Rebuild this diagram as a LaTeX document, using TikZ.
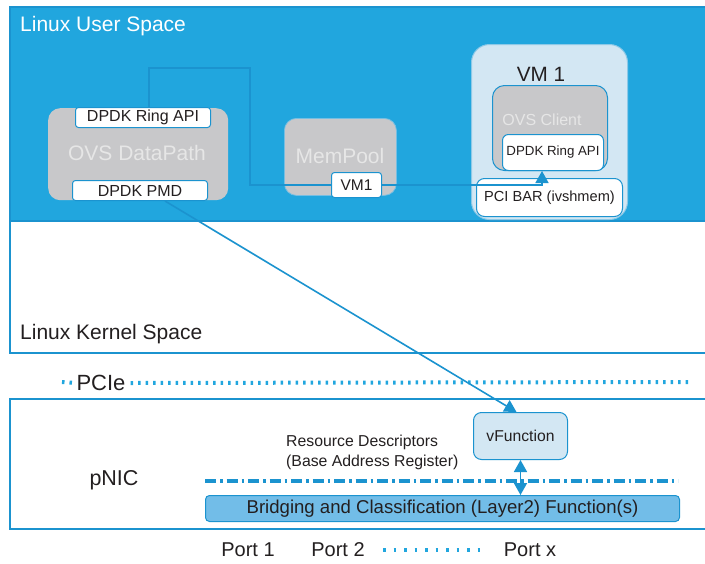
\documentclass[tikz,border=0pt]{standalone}
\usepackage{fontspec}
\setmainfont{Liberation Sans}
\usetikzlibrary{positioning,arrows.meta}
\definecolor{uSpace}{HTML}{21A6DE}
\definecolor{uLine}{HTML}{1B93CF}
\definecolor{uPale}{HTML}{D3E7F3}
\definecolor{uGrey}{HTML}{C8C8CA}
\definecolor{uBridge}{HTML}{72BDE8}
\definecolor{uInk}{HTML}{231F20}
\definecolor{uGhost}{HTML}{E6E6E6}
\newcommand{\pxfont}[1]{\fontsize{#1}{#1}\selectfont}
\tikzset{
  region/.style={draw=uLine, line width=1.5pt, anchor=north west, inner sep=0pt},
  greybox/.style={fill=uGrey, rounded corners=12pt, anchor=north west, inner sep=0pt},
  tag/.style={draw=uLine, line width=1pt, fill=white, rounded corners=3pt,
              anchor=north west, inner sep=0pt, text=uInk, font=\pxfont{16}},
  fnbox/.style={draw=uLine, line width=1pt, fill=uPale, rounded corners=8pt,
                anchor=north west, inner sep=0pt, text=uInk, font=\pxfont{15.7}},
  bridgebox/.style={draw=uLine, line width=1pt, fill=uBridge, rounded corners=4pt,
                    anchor=north west, inner sep=0pt, text=uInk, font=\pxfont{18.6}},
  lbl/.style={font=\pxfont{21}, text=uInk, inner sep=1pt},
  ghost/.style={font=\pxfont{21}, text=uGhost, inner sep=1pt},
  note/.style={font=\fontsize{15.8}{20}\selectfont, text=uInk, align=left, inner sep=1pt},
  wire/.style={draw=uLine, line width=1.6pt},
  tip/.style={-{Triangle[length=12pt, width=13pt]}},
  % dotted bus lines: short vertical dashes
  pcidots/.style={draw=uSpace, line width=4pt, dash pattern=on 2.5pt off 5pt},
  portdots/.style={draw=uSpace, line width=4pt, dash pattern=on 2.5pt off 8pt},
  dashdotline/.style={draw=uLine, line width=4pt, dash pattern=on 11pt off 4pt on 2.5pt off 4pt},
}

\begin{document}
\begin{tikzpicture}[x=1pt, y=-1pt]
\clip (0,0) rectangle (705,563);

%% ── the layers ────────────────────────────────────────────────────────────
\node[region, fill=uSpace, minimum width=710pt, minimum height=214pt] (user) at (9,6) {};
\node[lbl, text=white, anchor=west] (userlbl) at (19,26) {Linux User Space};
\node[region, fill=white, minimum width=710pt, minimum height=132pt] (kernel) at (9,220) {};
\node[lbl, anchor=west] (kernlbl) at (19,334) {Linux Kernel Space};
\node[region, fill=white, minimum width=710pt, minimum height=130pt] (pnic) at (9,398) {};
\node[lbl, font=\pxfont{21.5}] (pniclbl) at (114,480) {pNIC};

%% ── OVS datapath ──────────────────────────────────────────────────────────
\node[greybox, minimum width=180pt, minimum height=92pt] (dpath) at (48,108) {};
\node[ghost] (dptitle) at (137,153) {OVS DataPath};

%% ── mempool ───────────────────────────────────────────────────────────────
\node[greybox, draw=uLine!60, line width=0.8pt, minimum width=112pt,
      minimum height=77pt] (mempool) at (284,118) {};
\node[ghost] (mptitle) at (340,156) {MemPool};

%% ── the guest ─────────────────────────────────────────────────────────────
\node[region, fill=uPale, draw=uLine!50, line width=1pt, rounded corners=18pt,
      minimum width=156pt, minimum height=175pt] (vm) at (471,44) {};
\node[lbl, font=\pxfont{20.7}] (vmtitle) at (541,74) {VM 1};
\node[greybox, draw=uLine, line width=1pt, minimum width=115pt,
      minimum height=85pt] (client) at (492,85) {};
\node[ghost, font=\pxfont{16}] (cltitle) at (542,120) {OVS Client};

%% ── links in user space ───────────────────────────────────────────────────
\coordinate (bend) at (250,68);
\node[tag, minimum width=50pt, minimum height=25pt, font=\pxfont{15.5}] (vmtag) at (331,172) {VM1};
\node[tag, minimum width=101pt, minimum height=36pt, rounded corners=6pt,
      font=\pxfont{13.3}] (vmring) at (502,134) {DPDK Ring API};
\node[tag, minimum width=135pt, minimum height=20pt] (dpring) at (75,107) {DPDK Ring API};
\node[tag, minimum width=135pt, minimum height=20pt] (dppmd) at (72,180) {DPDK PMD};
\draw[wire] ([xshift=6pt]dpring.north) |- (bend) |- (vmtag.west);
\node[tag, minimum width=146pt, minimum height=38pt, rounded corners=8pt,
      font=\pxfont{14.6}] (pcibar) at (476,178) {PCI BAR (ivshmem)};
\draw[wire, tip] (vmtag.east) -| ([xshift=-11pt]vmring.south);

%% ── the NIC ───────────────────────────────────────────────────────────────
\node[lbl, font=\pxfont{22}] (pcie) at (101,383) {PCIe};
\draw[pcidots] (62,382) -- (pcie.west);
\draw[pcidots] ([xshift=4pt]pcie.east) -- (690,382);

\node[fnbox, minimum width=94pt, minimum height=47pt] (vfunc) at (473,412) {vFunction};
\node[note, anchor=north west] (resdesc) at (285,434)
  {Resource Descriptors\\(Base Address Register)};
\draw[dashdotline] (205,481) -- (678,481);
\node[bridgebox, minimum width=474pt, minimum height=26pt] (bridge) at (205,495)
  {Bridging and Classification (Layer2) Function(s)};

\draw[wire, tip] ([xshift=25pt]dppmd.south) -- ([xshift=-4pt]vfunc.north);
\draw[wire, {Triangle[length=12pt, width=13pt]}-{Triangle[length=12pt, width=13pt]}]
  (vfunc.south) -- (vfunc.south |- bridge.north);

%% ── ports ─────────────────────────────────────────────────────────────────
\node[lbl, font=\pxfont{20}] (port1) at (248,550) {Port 1};
\node[lbl, font=\pxfont{20}] (port2) at (338,550) {Port 2};
\node[lbl, font=\pxfont{20}] (portx) at (530,550) {Port x};
\draw[portdots] (383,550) -- (485,550);

\end{tikzpicture}
\end{document}
